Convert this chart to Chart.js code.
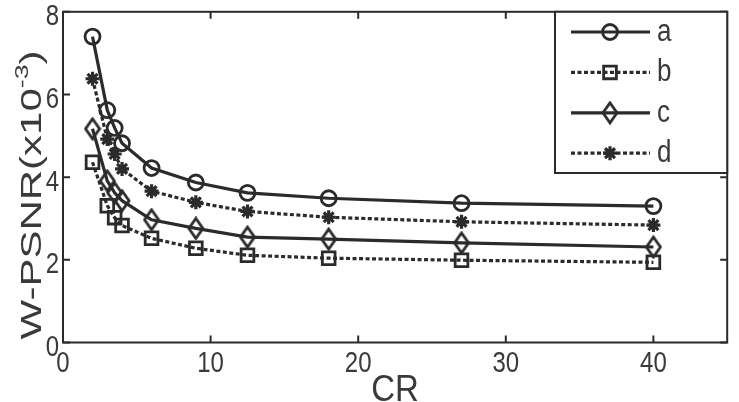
<!DOCTYPE html>
<html>
<head>
<meta charset="utf-8">
<script src="https://cdn.jsdelivr.net/npm/chart.js@4.4.1/dist/chart.umd.min.js"></script>
<style>
  html, body { margin: 0; padding: 0; background: #fff; }
  #wrap { width: 739px; height: 402px; }
</style>
</head>
<body>
<div id="wrap"><canvas id="chart" width="739" height="402"></canvas></div>
<script>
// values (W-PSNR in units of 1e-3)
const crValues = [2, 3, 3.5, 4, 6, 9, 12.5, 18, 27, 40];
const seriesA = [7.4, 5.62, 5.19, 4.82, 4.22, 3.87, 3.62, 3.49, 3.37, 3.30];
const seriesB = [4.36, 3.31, 3.02, 2.83, 2.52, 2.28, 2.11, 2.04, 1.99, 1.94];
const seriesC = [5.17, 3.91, 3.62, 3.43, 2.97, 2.76, 2.55, 2.50, 2.41, 2.31];
const seriesD = [6.38, 4.92, 4.56, 4.20, 3.66, 3.39, 3.17, 3.03, 2.92, 2.84];
const seriesNames = ['a', 'b', 'c', 'd'];
const xTicks = [0, 10, 20, 30, 40];
const yTicks = [0, 2, 4, 6, 8];
const xTitle = 'CR';
const yTitle = 'W-PSNR(x10';
const yTitleExp = '-3';
const yTitleEnd = ')';

const ink = '#2b2b2b';
const textInk = '#3a3a3a';
const FONT = '"Liberation Sans", Arial, sans-serif';

function pts(ys) {
    return crValues.map((x, i) => ({ x: x, y: ys[i] }));
}

// matlab style diamond is taller than wide
function makeDiamond() {
    const c = document.createElement('canvas');
    c.width = 18; c.height = 24;
    const g = c.getContext('2d');
    g.strokeStyle = ink;
    g.lineWidth = 2.8;
    g.beginPath();
    g.moveTo(9, 2); g.lineTo(16, 12); g.lineTo(9, 22); g.lineTo(2, 12);
    g.closePath();
    g.stroke();
    return c;
}
const diamond = makeDiamond();

// text with a little stretch, the figure was resized unevenly
function txt(ctx, s, x, y, size, sx, sy, align) {
    ctx.save();
    ctx.translate(x, y);
    ctx.scale(sx, sy);
    ctx.font = size + 'px ' + FONT;
    ctx.textAlign = align;
    ctx.textBaseline = 'alphabetic';
    ctx.fillStyle = textInk;
    ctx.fillText(s, 0, 0);
    ctx.restore();
}

function marker(ctx, style, x, y, r) {
    if (style instanceof HTMLCanvasElement) {
        ctx.drawImage(style, x - style.width / 2, y - style.height / 2);
        return;
    }
    ctx.beginPath();
    if (style === 'circle') {
        ctx.arc(x, y, r, 0, Math.PI * 2);
    } else if (style === 'rect') {
        const s = r * Math.SQRT1_2;
        ctx.rect(x - s, y - s, 2 * s, 2 * s);
    } else if (style === 'star') {
        for (let k = 0; k < 4; k++) {
            const a = k * Math.PI / 4;
            ctx.moveTo(x - Math.cos(a) * r, y - Math.sin(a) * r);
            ctx.lineTo(x + Math.cos(a) * r, y + Math.sin(a) * r);
        }
    }
    ctx.stroke();
}

const framePlugin = {
    id: 'frame',
    afterDraw(chart) {
        const ctx = chart.ctx;
        const area = chart.chartArea;
        const xs = chart.scales.x;
        const ys = chart.scales.y;
        ctx.save();
        ctx.strokeStyle = ink;
        ctx.lineWidth = 2;
        ctx.setLineDash([]);
        ctx.strokeRect(area.left, area.top, area.right - area.left, area.bottom - area.top);

        // inward ticks on all four sides
        const tl = 7;
        ctx.beginPath();
        xTicks.forEach(v => {
            const px = xs.getPixelForValue(v);
            ctx.moveTo(px, area.bottom); ctx.lineTo(px, area.bottom - tl);
            ctx.moveTo(px, area.top); ctx.lineTo(px, area.top + tl);
        });
        yTicks.forEach(v => {
            const py = ys.getPixelForValue(v);
            ctx.moveTo(area.left, py); ctx.lineTo(area.left + tl, py);
            ctx.moveTo(area.right, py); ctx.lineTo(area.right - tl, py);
        });
        ctx.stroke();

        // tick labels
        xTicks.forEach(v => {
            txt(ctx, String(v), xs.getPixelForValue(v), area.bottom + 29, 24, 1, 1.2, 'center');
        });
        yTicks.forEach(v => {
            txt(ctx, String(v), area.left - 4, ys.getPixelForValue(v) + 13.5, 24, 1, 1.2, 'right');
        });

        // axis titles
        txt(ctx, xTitle, (area.left + area.right) / 2, 401, 33, 1, 1.1, 'center');

        ctx.save();
        ctx.translate(41, 195);
        ctx.rotate(-Math.PI / 2);
        ctx.scale(1.4, 1);
        ctx.font = '30px ' + FONT;
        const w1 = ctx.measureText(yTitle).width;
        ctx.font = '19px ' + FONT;
        const w2 = ctx.measureText(yTitleExp).width;
        ctx.font = '30px ' + FONT;
        const w3 = ctx.measureText(yTitleEnd).width;
        let sx = -(w1 + w2 + w3) / 2;
        ctx.fillStyle = textInk;
        ctx.textBaseline = 'alphabetic';
        ctx.textAlign = 'left';
        ctx.fillText(yTitle, sx, 0);
        ctx.font = '19px ' + FONT;
        ctx.fillText(yTitleExp, sx + w1, -13);
        ctx.font = '30px ' + FONT;
        ctx.fillText(yTitleEnd, sx + w1 + w2, 0);
        ctx.restore();

        // legend box
        const lx0 = 555, ly0 = area.top, lx1 = area.right, ly1 = 173;
        ctx.fillStyle = '#fff';
        ctx.fillRect(lx0, ly0, lx1 - lx0, ly1 - ly0);
        ctx.lineWidth = 2;
        ctx.strokeRect(lx0, ly0, lx1 - lx0, ly1 - ly0);
        chart.data.datasets.forEach((ds, i) => {
            const ry = 32 + i * 40.4;
            ctx.lineWidth = ds.borderWidth;
            ctx.setLineDash(ds.borderDash || []);
            ctx.beginPath();
            ctx.moveTo(571, ry);
            ctx.lineTo(650, ry);
            ctx.stroke();
            ctx.setLineDash([]);
            ctx.lineWidth = ds.pointBorderWidth;
            marker(ctx, ds.pointStyle, 610, ry, ds.pointRadius);
            txt(ctx, ds.label, 657, ry + 9, 26, 1, 1.2, 'left');
        });
        ctx.restore();
    }
};

function line(label, values, dashed, style, radius, pbw) {
    return {
        label: label,
        data: pts(values),
        borderColor: ink,
        borderWidth: 3.2,
        borderDash: dashed ? [4, 2.5] : [],
        pointStyle: style,
        pointRadius: radius,
        pointBorderWidth: pbw,
        pointBorderColor: ink,
        pointBackgroundColor: 'rgba(0,0,0,0)',
        tension: 0,
        fill: false
    };
}

new Chart(document.getElementById('chart').getContext('2d'), {
    type: 'line',
    data: {
        datasets: [
            line(seriesNames[0], seriesA, false, 'circle', 7.5, 2.8),
            line(seriesNames[1], seriesB, true, 'rect', 9, 2.8),
            line(seriesNames[2], seriesC, false, diamond, 8, 2.8),
            line(seriesNames[3], seriesD, true, 'star', 7, 3.2)
        ]
    },
    options: {
        responsive: false,
        animation: false,
        layout: { padding: { top: 10, right: 2, left: 0, bottom: 0 } },
        plugins: {
            legend: { display: false },
            tooltip: { enabled: false }
        },
        scales: {
            x: {
                type: 'linear',
                min: 0,
                max: 45,
                grid: { display: false },
                border: { display: false },
                ticks: { display: false, stepSize: 10 },
                afterFit: s => { s.height = 59.5; }
            },
            y: {
                type: 'linear',
                min: 0,
                max: 8,
                grid: { display: false },
                border: { display: false },
                ticks: { display: false, stepSize: 2 },
                afterFit: s => { s.width = 63; }
            }
        }
    },
    plugins: [framePlugin]
});
</script>
</body>
</html>
